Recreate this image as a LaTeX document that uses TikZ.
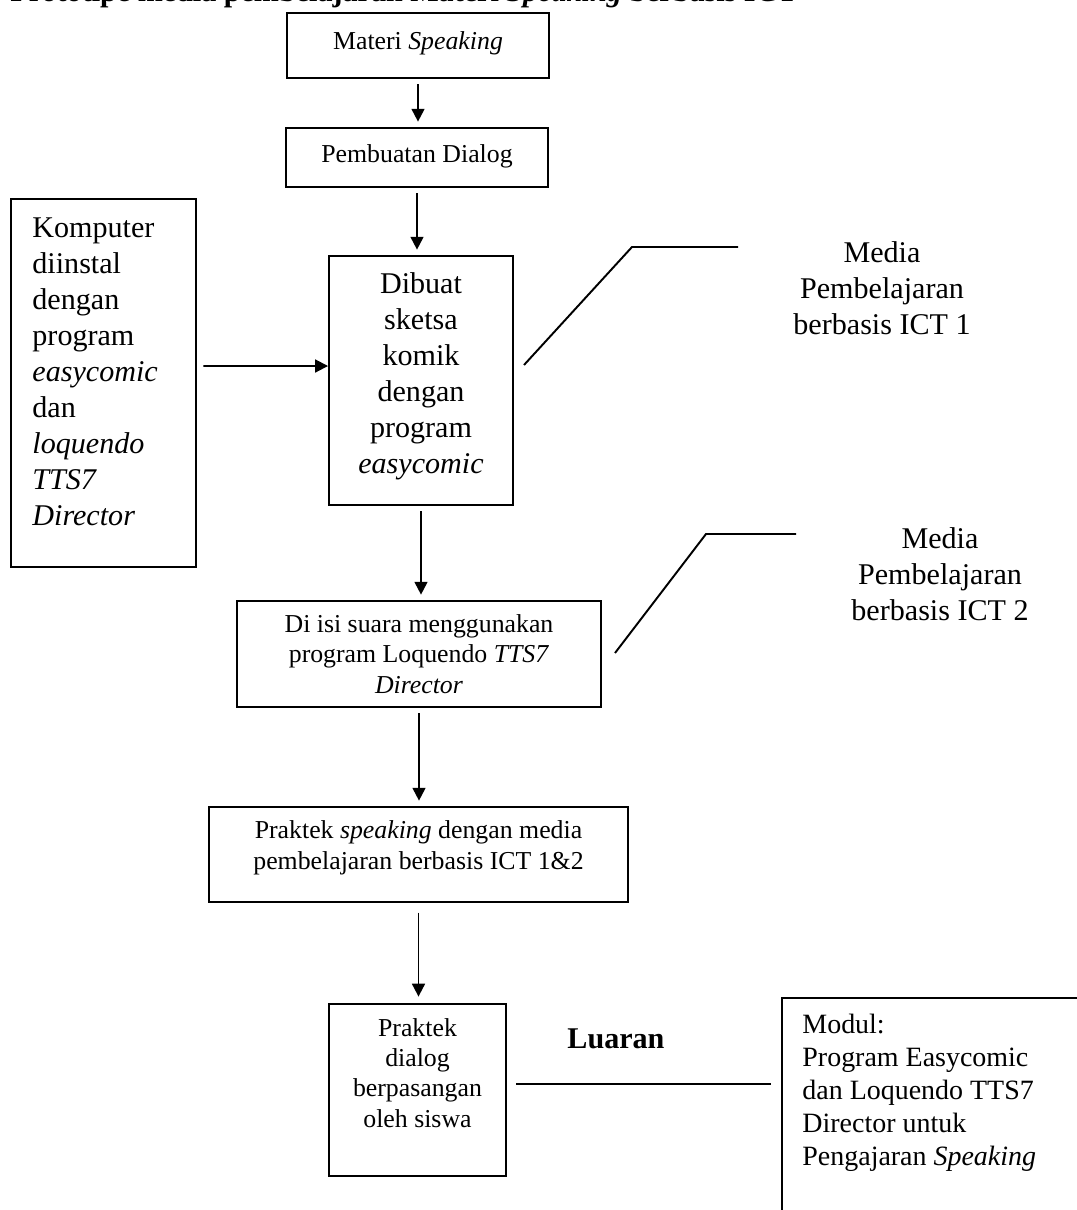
\documentclass[tikz,border=0pt]{standalone}
\usepackage{fontspec}
\setmainfont{Liberation Serif}
\usetikzlibrary{arrows.meta,calc}
\newcommand{\pxu}{0.4651pt}

\begin{document}
\begin{tikzpicture}[x=0.4651pt, y=-0.4651pt,
  bx/.style 2 args={draw, line width=0.9pt, inner sep=0pt,
              minimum width=#1*\pxu, minimum height=#2*\pxu},
  txt/.style={inner sep=0pt, anchor=base, align=center, font=\fontsize{12}{14}\selectfont},
  big/.style={inner sep=0pt, anchor=base, align=center, font=\fontsize{14}{16.7}\selectfont},
  arr/.style={-{Triangle[length=6pt, width=6pt]}, line width=0.9pt,
              shorten <=2.5pt, shorten >=2.5pt},
  lnk/.style={line width=0.9pt},
]
\clip (0,0) rectangle (1077,1210);

% Title (cut off at the top edge)
\node[inner sep=0pt, anchor=base west, font=\fontsize{14}{16}\selectfont\bfseries] (title) at (10,1.5)
  {Prototipe media pembelajaran Materi \textit{Speaking} berbasis ICT};

% Main column (text nodes sit on the baseline of their last line)
\node[bx={262}{65}] (materi) at (418,45.5) {};
\node[txt] (materi-t) at (418,50) {Materi \textit{Speaking}};

\node[bx={262}{59}] (dialog) at (417,157.5) {};
\node[txt] (dialog-t) at (417,163) {Pembuatan Dialog};

\node[bx={184}{249}] (dibuat) at (421,380.5) {};
\node[big] (dibuat-t) at (421,473) {Dibuat\\sketsa\\komik\\dengan\\program\\\textit{easycomic}};

\node[bx={364}{106}] (suara) at (419,654) {};
\node[txt] (suara-t) at (419,693)
  {Di isi suara menggunakan\\program Loquendo \textit{TTS7}\\\textit{Director}};

\node[bx={419}{95}] (praktek) at (418.5,854.5) {};
\node[txt] (praktek-t) at (418.5,869)
  {Praktek \textit{speaking} dengan media\\pembelajaran berbasis ICT 1\&2};

\node[bx={177}{172}] (pasangan) at (417.5,1090) {};
\node[txt] (pasangan-t) at (417.5,1127) {Praktek\\dialog\\berpasangan\\oleh siswa};

% Left: computer box
\node[bx={185}{368}] (komputer) at (103.5,383) {};
\node[big, anchor=base west, align=left] (komputer-t) at (32,525)
  {Komputer\\diinstal\\dengan\\program\\\textit{easycomic}\\dan\\\textit{loquendo}\\\textit{TTS7}\\\textit{Director}};

% Right: media labels
\node[big] (media1) at (882,334) {Media\\Pembelajaran\\berbasis ICT 1};
\node[big] (media2) at (940,620) {Media\\Pembelajaran\\berbasis ICT 2};

% Output
\node[inner sep=0pt, anchor=base west, font=\fontsize{14}{16}\selectfont\bfseries] (luaran) at (567,1048) {Luaran};
\node[bx={318}{232}] (modul) at (941,1114) {};
\node[inner sep=0pt, anchor=base west, align=left, font=\fontsize{13}{15.35}\selectfont] (modul-t) at (802,1165)
  {Modul:\\Program Easycomic\\dan Loquendo TTS7\\Director untuk\\Pengajaran \textit{Speaking}};

% Arrows
\draw[arr] (materi.south) -- (materi.south |- dialog.north);
\draw[arr] (dialog.south) -- (dialog.south |- dibuat.north);
\draw[arr, shorten <=3pt, shorten >=0pt] ([yshift=7.9pt]komputer.east) -- ([yshift=6.74pt]dibuat.west);
\draw[arr] (dibuat.south) -- (dibuat.south |- suara.north);
\draw[arr] (suara.south) -- (suara.south |- praktek.north);
\draw[arr, shorten <=4.5pt, shorten >=3pt] (praktek.south) -- (praktek.south |- pasangan.north);

% Callout lines
\coordinate (c1a) at (524,365);
\coordinate (c1b) at (632,247);
\coordinate (c1c) at (738,247);
\draw[lnk] (c1a) -- (c1b) -- (c1c);
\coordinate (c2a) at (615,653);
\coordinate (c2b) at (706,534);
\coordinate (c2c) at (796,534);
\draw[lnk] (c2a) -- (c2b) -- (c2c);

\coordinate (lu) at ([yshift=2.8pt]pasangan.east);
\draw[lnk, shorten <=4.2pt, shorten >=4.6pt] (lu) -- (lu -| modul.west);
\end{tikzpicture}
\end{document}
